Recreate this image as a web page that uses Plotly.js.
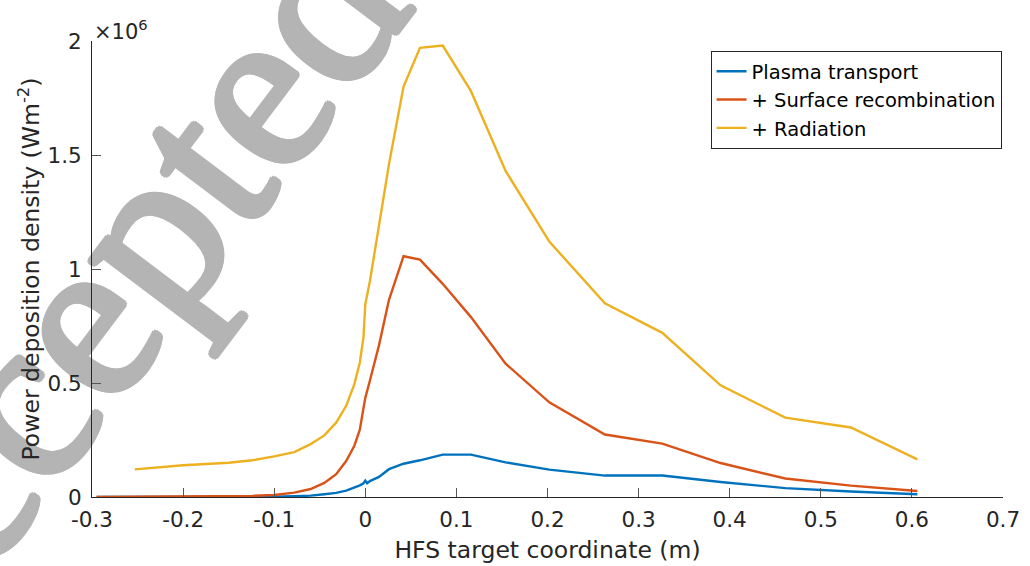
<!DOCTYPE html>
<html>
<head>
<meta charset="utf-8">
<script src="https://cdn.plot.ly/plotly-3.0.1.min.js"></script>
<style>
  html, body { margin: 0; padding: 0; background: #fff; }
  #chart { width: 1030px; height: 566px; }
</style>
</head>
<body>
<div id="chart"></div>
<script>
// HFS target coordinate (m) for each series
const xTransport = [-0.295, -0.253, -0.2, -0.15, -0.124, -0.1, -0.078, -0.06, -0.045, -0.032, -0.021, -0.012, -0.006, -0.002, 0, 0.002, 0.005, 0.015, 0.026, 0.042, 0.06, 0.085, 0.116, 0.154, 0.202, 0.263, 0.326, 0.39, 0.461, 0.533, 0.606];
const xSurface = [-0.295, -0.253, -0.2, -0.15, -0.124, -0.1, -0.078, -0.06, -0.045, -0.032, -0.021, -0.012, -0.006, -0.002, 0, 0.005, 0.015, 0.026, 0.042, 0.06, 0.085, 0.116, 0.154, 0.202, 0.263, 0.326, 0.39, 0.461, 0.533, 0.606];
const xRadiation = [-0.253, -0.2, -0.15, -0.124, -0.1, -0.078, -0.06, -0.045, -0.032, -0.021, -0.012, -0.006, -0.002, 0, 0.005, 0.015, 0.026, 0.042, 0.06, 0.085, 0.116, 0.154, 0.202, 0.263, 0.326, 0.39, 0.461, 0.533, 0.606];

// power deposition density (W m^-2)
const plasmaTransport = [0, 0, 200, 500, 800, 1500, 3500, 6000, 12000, 18000, 28000, 40000, 51000, 60000, 72000, 60000, 70000, 88000, 122000, 146000, 161000, 186000, 186000, 152000, 120000, 94000, 94000, 66000, 39000, 24000, 12000];
const surfaceRecomb = [0, 500, 1500, 3000, 5000, 9000, 19000, 35000, 62000, 100000, 158000, 225000, 295000, 390000, 435000, 510000, 665000, 865000, 1056000, 1041000, 935000, 789000, 585000, 415000, 274000, 234000, 149000, 81000, 50000, 26000];
const radiation = [121000, 139000, 150000, 161000, 178000, 197000, 232000, 270000, 326000, 400000, 495000, 590000, 700000, 845000, 945000, 1190000, 1460000, 1800000, 1970000, 1980000, 1780000, 1430000, 1120000, 850000, 720000, 490000, 348000, 305000, 165000];

const seriesNames = ['Plasma transport', '+ Surface recombination', '+ Radiation'];
const xTicks = [-0.3, -0.2, -0.1, 0, 0.1, 0.2, 0.3, 0.4, 0.5, 0.6, 0.7];
const yTicks = [0, 500000, 1000000, 1500000, 2000000];
const yTickText = ['0', '0.5', '1', '1.5', '2'];

const COLORS = ['#0072BD', '#D95319', '#EDB120'];
const INK = '#262626';
const WM_GRAY = '#b4b4b4';
const FONT = 'DejaVu Sans, Liberation Sans, Arial, sans-serif';

const traces = [
  [xTransport, plasmaTransport],
  [xSurface, surfaceRecomb],
  [xRadiation, radiation],
].map(([x, y], i) => ({
  type: 'scatter',
  mode: 'lines',
  name: seriesNames[i],
  x: x,
  y: y,
  line: { color: COLORS[i], width: 2.4 },
  cliponaxis: false,
}));

const axisBase = {
  showgrid: false,
  zeroline: false,
  showline: true,
  linecolor: INK,
  linewidth: 1,
  ticks: 'inside',
  ticklen: 9,
  tickwidth: 1,
  tickcolor: '#555',
  tickfont: { family: FONT, size: 21.5, color: INK },
  mirror: false,
};

// heavier strokes for the watermark than the regular face gives
const wmShadow = ['3px 0', '-3px 0', '0 3px', '0 -3px', '2px 2px', '-2px -2px', '2px -2px', '-2px 2px']
  .map(o => o + ' 0 ' + WM_GRAY).join(', ');

const layout = {
  width: 1030,
  height: 566,
  paper_bgcolor: '#fff',
  plot_bgcolor: 'rgba(0,0,0,0)',
  margin: { l: 92, r: 27, t: 41, b: 69 },
  font: { family: FONT, color: INK },
  xaxis: {
    ...axisBase,
    range: [-0.3, 0.7],
    tickvals: xTicks,
    ticktext: xTicks.map(String),
    ticklabelstandoff: 3,
    title: { text: 'HFS target coordinate (m)', font: { family: FONT, size: 23.5, color: INK }, standoff: 10 },
  },
  yaxis: {
    ...axisBase,
    range: [0, 2000000],
    tickvals: yTicks,
    ticktext: yTickText,
    ticklabelstandoff: 5,
    title: { text: 'Power deposition density (Wm<sup>-2</sup>)', font: { family: FONT, size: 23.5, color: INK }, standoff: 1 },
  },
  showlegend: true,
  legend: {
    x: 0.679,
    y: 0.978,
    xanchor: 'left',
    yanchor: 'top',
    bgcolor: '#fff',
    bordercolor: INK,
    borderwidth: 1,
    font: { family: FONT, size: 19.5, color: '#000' },
    tracegroupgap: 0,
  },
  annotations: [
    {
      name: 'watermark',
      text: 'Accepted',
      xref: 'paper', yref: 'paper',
      x: 0.043, y: 0.412,
      xanchor: 'center', yanchor: 'middle',
      textangle: -53,
      showarrow: false,
      font: { family: 'Liberation Serif, Times New Roman, serif', size: 235, color: WM_GRAY, shadow: wmShadow },
    },
    {
      text: '\u00d710<sup>6</sup>',
      xref: 'paper', yref: 'paper',
      x: 0, y: 1,
      xanchor: 'left', yanchor: 'bottom',
      xshift: 0, yshift: -5,
      showarrow: false,
      font: { family: FONT, size: 21, color: INK },
    },
  ],
};

Plotly.newPlot('chart', traces, layout, { displayModeBar: false, staticPlot: true }).then(gd => {
  // push the watermark underneath the axes and lines, nudged down-left
  const below = gd.querySelector('.main-svg .layer-below');
  const wm = gd.querySelector('.annotation[data-index="0"]');
  if (below && wm) {
    below.appendChild(wm);
    wm.setAttribute('transform', 'translate(-45,5)');
  }
});
</script>
</body>
</html>
